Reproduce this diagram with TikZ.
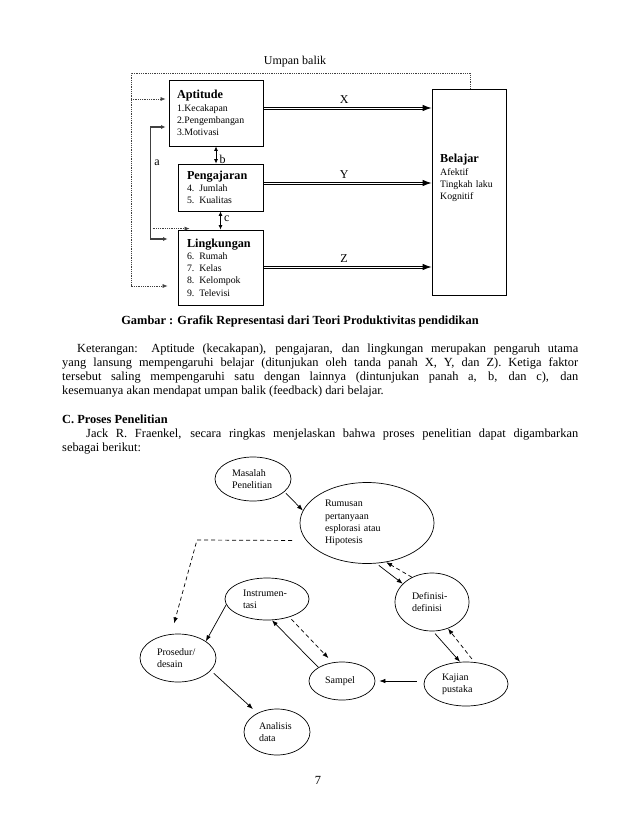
\documentclass[tikz,border=0pt]{standalone}
\usepackage{fontspec}
\setmainfont{Liberation Serif}
\usetikzlibrary{arrows.meta,shapes.geometric,calc}

\newcommand{\bodysize}{\fontsize{12.4}{14.3}\selectfont}
\newcommand{\itemsize}{\fontsize{9.8}{12.2}\selectfont}
\newcommand{\titlesize}{\fontsize{12.2}{14}\selectfont\bfseries}
\newcommand{\ovalsize}{\fontsize{10}{12.3}\selectfont}

\begin{document}
\begin{tikzpicture}[x=1pt, y=-1pt,
	box/.style={draw, line width=0.8pt, align=left, font=\itemsize, inner xsep=8pt, inner ysep=2pt},
	oval/.style={ellipse, draw, line width=0.7pt, inner sep=0pt, align=left, font=\ovalsize},
	fb/.style={dash pattern=on 0.8pt off 1pt, line width=0.6pt, black!75},
	smalltip/.style={arrows={-Latex[length=5pt,width=4pt]}},
	bothtips/.style={arrows={Latex[length=4.5pt,width=4pt]-Latex[length=4.5pt,width=4pt]}},
	bigtip/.style={arrows={-Latex[length=9pt,width=6.5pt]}, line width=0.9pt},
	rail/.style={line width=0.9pt},
	athick/.style={line width=1.1pt, black!75},
	pro/.style={arrows={-Latex[length=6pt,width=4.5pt]}, line width=0.7pt},
	prodash/.style={pro, dash pattern=on 4pt off 3pt}]

	\useasboundingbox (0,0) rectangle (638,826);

	% grafik produktivitas
	\node (umpan) at (295,62) [font=\fontsize{12}{14}\selectfont] {Umpan balik};
	\node (apt) at (216,113) [box, minimum width=94, minimum height=66, text width=78] {{\titlesize Aptitude}\\1.Kecakapan\\2.Pengembangan\\3.Motivasi};
	\node (pen) at (220.5,187.5) [box, minimum width=85, minimum height=47, text width=67] {{\titlesize Pengajaran}\\4. Jumlah\\5. Kualitas};
	\node (lingk) at (220.5,267.5) [box, minimum width=85, minimum height=75, text width=67] {{\titlesize Lingkungan}\\6. Rumah\\7. Kelas\\8. Kelompok\\9. Televisi};
	\node (bel) at (469,192) [box, minimum width=74, minimum height=206] {};
	\node (beltxt) at (440,163) [anchor=base west, align=left, text width=60, font=\itemsize, inner sep=0pt] {{\titlesize Belajar}\\Afektif\\Tingkah laku\\Kognitif};

	% panah X, Y, Z (garis ganda)
	\draw[rail] ($(apt.east)+(0,-6)$) -- ($(apt.east -| bel.west)+(-7,-6)$);
	\draw[rail] ($(apt.east)+(0,-3.8)$) -- ($(apt.east -| bel.west)+(-7,-3.8)$);
	\draw[bigtip] ($(apt.east -| bel.west)+(-9,-5)$) -- ($(apt.east -| bel.west)+(0,-5)$);
	\node (xlabel) at ($(apt.east)!0.48!(apt.east -| bel.west)+(0,-13)$) [font=\fontsize{12}{14}\selectfont] {X};
	\draw[rail] ($(pen.east)+(0,-5.5)$) -- ($(pen.east -| bel.west)+(-7,-5.5)$);
	\draw[rail] ($(pen.east)+(0,-3.3)$) -- ($(pen.east -| bel.west)+(-7,-3.3)$);
	\draw[bigtip] ($(pen.east -| bel.west)+(-9,-4.5)$) -- ($(pen.east -| bel.west)+(0,-4.5)$);
	\node (ylabel) at ($(pen.east)!0.48!(pen.east -| bel.west)+(0,-12.5)$) [font=\fontsize{12}{14}\selectfont] {Y};
	\draw[rail] ($(lingk.east)+(0,-1.5)$) -- ($(lingk.east -| bel.west)+(-7,-1.5)$);
	\draw[rail] ($(lingk.east)+(0,0.7)$) -- ($(lingk.east -| bel.west)+(-7,0.7)$);
	\draw[bigtip] ($(lingk.east -| bel.west)+(-9,-0.5)$) -- ($(lingk.east -| bel.west)+(0,-0.5)$);
	\node (zlabel) at ($(lingk.east)!0.48!(lingk.east -| bel.west)+(0,-8.5)$) [font=\fontsize{12}{14}\selectfont] {Z};

	\draw[bothtips, line width=0.8pt] (apt.south) to node [right, pos=0.78, font=\fontsize{12}{14}\selectfont] {b} (apt.south |- pen.north);
	\draw[bothtips, line width=0.8pt] (lingk.north |- pen.south) to node [right, pos=0.4, font=\fontsize{12}{14}\selectfont] {c} (lingk.north);
	\draw[bothtips, athick] ($(apt.west)+(-3,14)$) -| node [pos=0.66, right, font=\fontsize{12}{14}\selectfont, text=black] {a} ($(lingk.west)+(-27,-28.5)$) -- ($(lingk.west)+(-10,-28.5)$);

	% umpan balik
	\coordinate (fbcorner) at (131,73);
	\draw[fb, smalltip] ($(bel.north)+(1,0)$) |- (fbcorner) |- ($(lingk.west)+(-10,18.5)$);
	\draw[fb, smalltip] ($(fbcorner |- apt.west)+(0,-14)$) -- ($(apt.west)+(-3,-14)$);
	\draw[fb, smalltip] ($(lingk.north west)+(-25,-1)$) -- ($(lingk.north west)+(12,-1)$);

	% teks
	\node (caption) at (300,324) [anchor=base, font=\bodysize\bfseries] {Gambar : Grafik Representasi dari Teori Produktivitas pendidikan};
	\node (ket) at (62,352) [anchor=base west, text width=516, align=justify, font=\bodysize, inner sep=0pt] {\hspace*{15pt}Keterangan: Aptitude (kecakapan), pengajaran, dan lingkungan merupakan pengaruh utama\linebreak yang lansung mempengaruhi belajar (ditunjukan oleh tanda panah X, Y, dan Z). Ketiga faktor\linebreak tersebut saling mempengaruhi satu dengan lainnya (dintunjukan panah a, b, dan c), dan\linebreak kesemuanya akan mendapat umpan balik (feedback) dari belajar.};
	\node (subjudul) at (62,423) [anchor=base west, font=\bodysize\bfseries, inner sep=0pt] {C. Proses Penelitian};
	\node (fraenkel) at (62,437.5) [anchor=base west, text width=516, align=justify, font=\bodysize, inner sep=0pt] {\hspace*{24pt}Jack R. Fraenkel, secara ringkas menjelaskan bahwa proses penelitian dapat digambarkan\linebreak sebagai berikut:};

	% proses penelitian
	\node (masalah) at (253,479) [oval, minimum width=76, minimum height=44, text width=42] {Masalah\\Penelitian};
	\node (rumusan) at (367,523) [oval, minimum width=134, minimum height=81, text width=84] {Rumusan\\pertanyaan\\esplorasi atau\\Hipotesis};
	\node (definisi) at (432,602) [oval, minimum width=74, minimum height=58, text width=40] {Definisi-\\definisi};
	\node (instrumen) at (267,599) [oval, minimum width=84, minimum height=42, text width=48] {Instrumen-\\tasi};
	\node (prosedur) at (178,658) [oval, minimum width=76, minimum height=48, text width=42] {Prosedur/\\desain};
	\node (analisis) at (277,732) [oval, minimum width=66, minimum height=46, text width=36] {Analisis\\data};
	\node (sampel) at (342,681) [oval, minimum width=66, minimum height=38, text width=34] {Sampel};
	\node (kajian) at (466,684) [oval, minimum width=84, minimum height=44, text width=48] {Kajian\\pustaka};

	\draw[pro, shorten <=2pt] (masalah.-22) -- (rumusan.169);
	\draw[pro, shorten <=3pt] (rumusan.-77) -- (definisi.148);
	\draw[prodash] (definisi.129) -- (rumusan.-64);
	\draw[pro, shorten <=3pt] (definisi.-88) -- (kajian.105);
	\draw[prodash, shorten <=4pt] (kajian.69) -- (definisi.-59);
	\draw[pro, shorten <=7pt, shorten >=4pt] ($(kajian.west)+(0,-3)$) -- (sampel.east);
	\draw[pro] (sampel.150) -- (instrumen.-77);
	\draw[prodash, shorten <=3pt, shorten >=6pt] (instrumen.-39) -- (sampel.117);
	\draw[pro] (instrumen.188) -- (prosedur.31);
	\draw[pro, shorten <=4pt, shorten >=6pt] (prosedur.-21) -- (analisis.136);
	\coordinate (dashbend) at (197,540);
	\draw[prodash, shorten >=11pt] ($(rumusan.196)+(-14,0)$) -- (dashbend) -- (prosedur.106);

	\node (pagenum) at (318,784) [anchor=base, font=\bodysize] {7};
\end{tikzpicture}
\end{document}
